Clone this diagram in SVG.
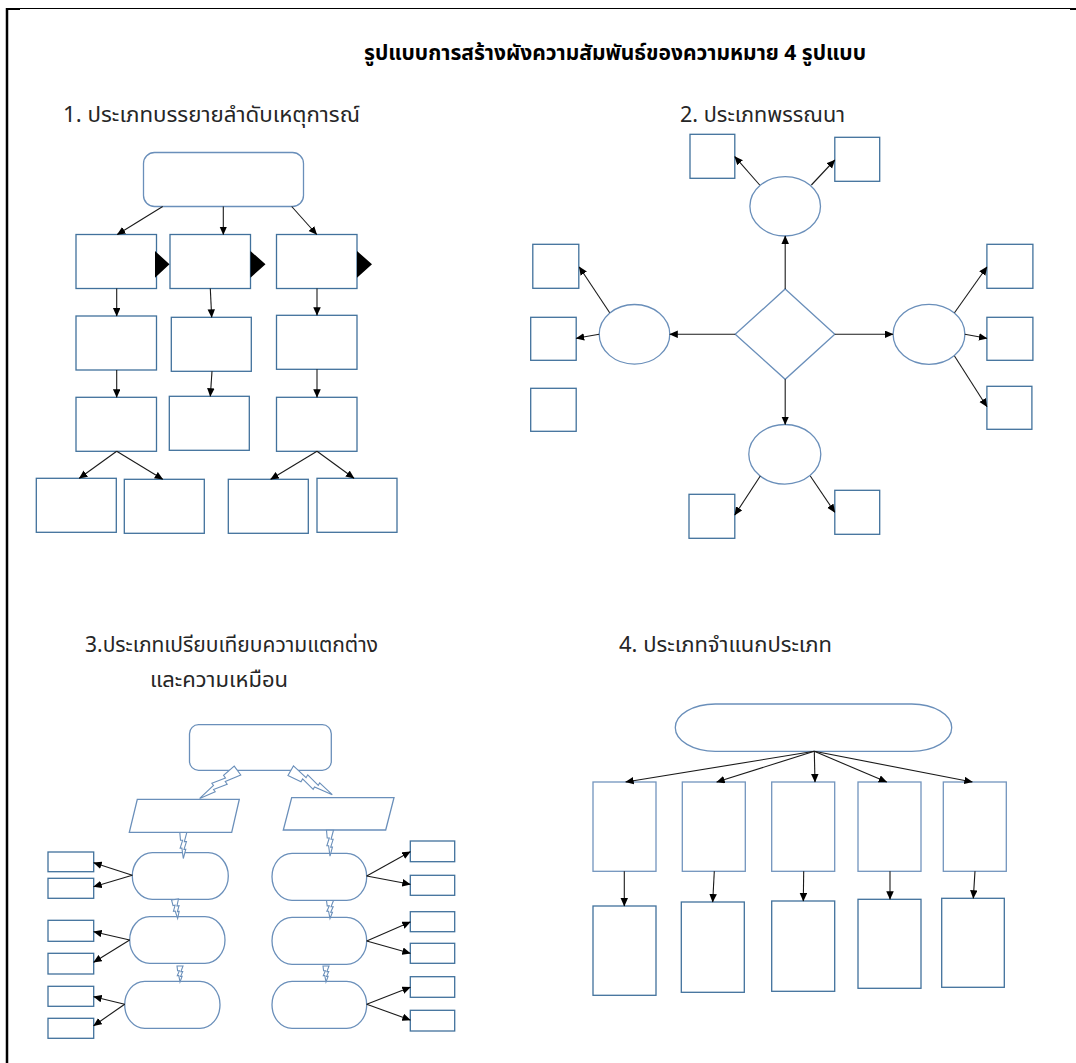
<svg xmlns="http://www.w3.org/2000/svg" xmlns:xlink="http://www.w3.org/1999/xlink" width="1076" height="1063" viewBox="0 0 1076 1063">
<style>
.t{font-family:'Noto Sans Thai','Noto Sans','DejaVu Sans',sans-serif;fill:#262626;font-size:21px}
.tb{font-family:'Noto Sans Thai','Noto Sans','DejaVu Sans',sans-serif;fill:#000;font-size:21px;font-weight:bold}
.bx{fill:#fff;stroke:#41719c;stroke-width:1.3}
.sh{fill:#fff;stroke:#6a8fba;stroke-width:1.3}
.c line{stroke:#1a1a1a;stroke-width:1.1;marker-end:url(#ah)}
.bolt{fill:#fff;stroke:#6a8fba;stroke-width:1.1}
</style>
<defs>
<marker id="ah" markerUnits="userSpaceOnUse" markerWidth="9" markerHeight="8" refX="8" refY="3.75" orient="auto">
<path d="M0,0 L8.5,3.75 L0,7.5 z" fill="#000"/>
</marker>
<path id="bolt" d="M-0.5,0 L0.5,0 L0.15,0.35 L0.45,0.35 L0.1,0.65 L0.35,0.65 L0,1 L-0.2,0.6 L-0.45,0.6 L-0.1,0.3 L-0.4,0.3 Z" vector-effect="non-scaling-stroke"/>
</defs>
<rect width="1076" height="1063" fill="#fff"/>
<g id="border">
<line x1="7" y1="8" x2="7" y2="1063" stroke="#000" stroke-width="2.5"/>
<line x1="6" y1="8.5" x2="1076" y2="8.5" stroke="#000" stroke-width="1"/>
<line x1="6" y1="9" x2="20" y2="9" stroke="#000" stroke-width="2"/>
<line x1="1070" y1="9" x2="1076" y2="9" stroke="#000" stroke-width="2"/>
</g>
<g id="texts">
<text class="tb" x="364" y="60" textLength="502" lengthAdjust="spacingAndGlyphs">รูปแบบการสร้างผังความสัมพันธ์ของความหมาย 4 รูปแบบ</text>
<text class="t" x="63" y="122" textLength="297" lengthAdjust="spacingAndGlyphs">1. ประเภทบรรยายลำดับเหตุการณ์</text>
<text class="t" x="680" y="122" textLength="165" lengthAdjust="spacingAndGlyphs">2. ประเภทพรรณนา</text>
<text class="t" x="85" y="652" textLength="293" lengthAdjust="spacingAndGlyphs">3.ประเภทเปรียบเทียบความแตกต่าง</text>
<text class="t" x="219" y="687" text-anchor="middle" style="font-size:22px">และความเหมือน</text>
<text class="t" x="619" y="652" textLength="213" lengthAdjust="spacingAndGlyphs">4. ประเภทจำแนกประเภท</text>
</g>
<!-- Section 1 -->
<g id="s1">
<g id="s1-top"><rect class="bx" x="143.5" y="152.5" width="160" height="54" rx="11" style="stroke:#6a8fba"/></g>
<g id="s1-a1"><rect class="bx" x="76" y="234.5" width="80.5" height="54"/></g>
<g id="s1-b1"><rect class="bx" x="170" y="234.5" width="80.5" height="54"/></g>
<g id="s1-c1"><rect class="bx" x="276.5" y="234.5" width="80.5" height="54"/></g>
<g id="s1-tri"><path d="M155,251 L169.5,264.3 L155,277.7 Z M250.5,251 L265.5,264.3 L250.5,277.7 Z M357,251 L372,264.3 L357,277.7 Z" fill="#000"/></g>
<g id="s1-a2"><rect class="bx" x="76" y="316" width="80.5" height="54"/></g>
<g id="s1-b2"><rect class="bx" x="171.3" y="317.3" width="80" height="54"/></g>
<g id="s1-c2"><rect class="bx" x="276.5" y="315.3" width="80.5" height="54"/></g>
<g id="s1-a3"><rect class="bx" x="76" y="397.3" width="80.5" height="54"/></g>
<g id="s1-b3"><rect class="bx" x="169.3" y="396.3" width="80" height="54"/></g>
<g id="s1-c3"><rect class="bx" x="276.5" y="397.3" width="80.5" height="54"/></g>
<g id="s1-d1"><rect class="bx" x="36.3" y="478.3" width="80" height="54"/></g>
<g id="s1-d2"><rect class="bx" x="124.3" y="479.3" width="80" height="54"/></g>
<g id="s1-d3"><rect class="bx" x="228.3" y="479.3" width="80" height="54"/></g>
<g id="s1-d4"><rect class="bx" x="317" y="478.3" width="80" height="54"/></g>
</g>
<!-- Section 2 -->
<g id="s2">
<g id="s2-diamond"><path class="sh" d="M785.2,289 L834.8,334.3 L785.2,379.3 L735.2,334.3 Z"/></g>
<g id="s2-et"><ellipse class="sh" cx="785.2" cy="206.3" rx="35.3" ry="29.7"/></g>
<g id="s2-el"><ellipse class="sh" cx="634.5" cy="334.3" rx="35.3" ry="29.8"/></g>
<g id="s2-er"><ellipse class="sh" cx="929" cy="334.3" rx="35.9" ry="30"/></g>
<g id="s2-eb"><ellipse class="sh" cx="784.8" cy="454.3" rx="36" ry="29.8"/></g>
<g id="s2-tl"><rect class="bx" x="690" y="134.3" width="44.8" height="44"/></g>
<g id="s2-tr"><rect class="bx" x="834.8" y="137.3" width="44.9" height="44"/></g>
<g id="s2-l1"><rect class="bx" x="532.8" y="244.3" width="46" height="44"/></g>
<g id="s2-l2"><rect class="bx" x="530.7" y="317.3" width="45.5" height="43"/></g>
<g id="s2-l3"><rect class="bx" x="530.7" y="388.3" width="45.5" height="43"/></g>
<g id="s2-r1"><rect class="bx" x="986.9" y="244.3" width="46" height="44"/></g>
<g id="s2-r2"><rect class="bx" x="986.9" y="317.3" width="46" height="43"/></g>
<g id="s2-r3"><rect class="bx" x="986.9" y="386.3" width="45" height="43"/></g>
<g id="s2-bl"><rect class="bx" x="689" y="494.3" width="45.8" height="44"/></g>
<g id="s2-br"><rect class="bx" x="834.8" y="490.3" width="44.9" height="44"/></g>
</g>
<!-- Section 3 -->
<g id="s3">
<g id="s3-top"><rect class="sh" x="189.5" y="724.7" width="141.8" height="45.6" rx="9"/></g>
<g id="s3-pl"><path class="sh" d="M137.3,799.3 L239.3,799.3 L231.7,832.3 L129.3,832.3 Z"/></g>
<g id="s3-pr"><path class="sh" d="M291.7,797.7 L394,797.7 L385.7,830 L283.3,830 Z"/></g>
<g id="s3-p1"><rect class="sh" x="132.3" y="852.7" width="96" height="46.6" rx="20" ry="23.3"/></g>
<g id="s3-p2"><rect class="sh" x="129.7" y="916.7" width="95.3" height="46.6" rx="20" ry="23.3"/></g>
<g id="s3-p3"><rect class="sh" x="124.7" y="981.3" width="95.3" height="47" rx="20" ry="23.5"/></g>
<g id="s3-q1"><rect class="sh" x="272" y="853.3" width="94.7" height="47" rx="20" ry="23.5"/></g>
<g id="s3-q2"><rect class="sh" x="272" y="917.3" width="94.7" height="47" rx="20" ry="23.5"/></g>
<g id="s3-q3"><rect class="sh" x="272" y="981.3" width="94.7" height="47" rx="20" ry="23.5"/></g>
<g id="s3-lb1"><rect class="bx" x="48" y="852" width="45.7" height="19.7"/></g>
<g id="s3-lb2"><rect class="bx" x="48" y="878.3" width="45.7" height="20"/></g>
<g id="s3-lb3"><rect class="bx" x="48" y="920.3" width="45.7" height="21"/></g>
<g id="s3-lb4"><rect class="bx" x="48" y="953.3" width="45.7" height="20.7"/></g>
<g id="s3-lb5"><rect class="bx" x="48" y="986.3" width="45.7" height="20"/></g>
<g id="s3-lb6"><rect class="bx" x="48" y="1018.3" width="45.7" height="20"/></g>
<g id="s3-rb1"><rect class="bx" x="410.3" y="841" width="44.4" height="20.7"/></g>
<g id="s3-rb2"><rect class="bx" x="410.3" y="875.3" width="44.4" height="20"/></g>
<g id="s3-rb3"><rect class="bx" x="410.3" y="911.7" width="44.4" height="20"/></g>
<g id="s3-rb4"><rect class="bx" x="410.3" y="943.3" width="44.4" height="20"/></g>
<g id="s3-rb5"><rect class="bx" x="410.3" y="976.7" width="44.4" height="20.6"/></g>
<g id="s3-rb6"><rect class="bx" x="410.3" y="1010.3" width="44.4" height="20.7"/></g>
<g id="s3-bolts">
<use xlink:href="#bolt" class="bolt" transform="translate(237.5,770.5) rotate(53.6) scale(11,47)"/>
<use xlink:href="#bolt" class="bolt" transform="translate(290.7,770.7) rotate(-60) scale(11,48)"/>
<use xlink:href="#bolt" class="bolt" transform="translate(183.3,832.5) scale(7,26)"/>
<use xlink:href="#bolt" class="bolt" transform="translate(330,830.2) scale(7,26)"/>
<use xlink:href="#bolt" class="bolt" transform="translate(175,899.5) rotate(-8) scale(7,19)"/>
<use xlink:href="#bolt" class="bolt" transform="translate(330,900.5) scale(7,18)"/>
<use xlink:href="#bolt" class="bolt" transform="translate(180,966) scale(6,16)"/>
<use xlink:href="#bolt" class="bolt" transform="translate(326,966) scale(6,16)"/>
</g>
</g>
<!-- Section 4 -->
<g id="s4">
<g id="s4-top"><rect class="sh" x="675.3" y="704" width="276.4" height="47.3" rx="40" ry="23.6"/></g>
<g id="s4-a1"><rect class="bx" x="593" y="782" width="63" height="89.3" style="stroke:#7294bd"/></g>
<g id="s4-b1"><rect class="bx" x="682.3" y="782" width="63" height="89.3" style="stroke:#7294bd"/></g>
<g id="s4-c1"><rect class="bx" x="771.7" y="782" width="63" height="89.3" style="stroke:#7294bd"/></g>
<g id="s4-d1"><rect class="bx" x="858" y="782" width="63" height="89.3" style="stroke:#7294bd"/></g>
<g id="s4-e1"><rect class="bx" x="943.3" y="782" width="63" height="89.3" style="stroke:#7294bd"/></g>
<g id="s4-a2"><rect class="bx" x="593" y="906" width="63" height="89.3"/></g>
<g id="s4-b2"><rect class="bx" x="681.3" y="902" width="63" height="90.3"/></g>
<g id="s4-c2"><rect class="bx" x="771.7" y="901" width="63" height="90.3"/></g>
<g id="s4-d2"><rect class="bx" x="858" y="899.3" width="63" height="89"/></g>
<g id="s4-e2"><rect class="bx" x="941.7" y="898.3" width="62.6" height="89"/></g>
</g>
<g id="connectors" class="c">
<!-- s1 -->
<line x1="162.7" y1="206.5" x2="117.3" y2="234.5"/>
<line x1="223.3" y1="206.5" x2="223.3" y2="234.5"/>
<line x1="291.7" y1="206.5" x2="316.7" y2="234.5"/>
<line x1="116.7" y1="288.5" x2="116.7" y2="316"/>
<line x1="210.3" y1="288.5" x2="211.7" y2="317.3"/>
<line x1="317" y1="288.5" x2="317" y2="315.3"/>
<line x1="116.7" y1="370" x2="116.7" y2="397.3"/>
<line x1="212" y1="371.3" x2="210.3" y2="396.3"/>
<line x1="317" y1="369.3" x2="317" y2="397.3"/>
<line x1="116.7" y1="451.3" x2="79.3" y2="478.3"/>
<line x1="116.7" y1="451.3" x2="162.7" y2="479.3"/>
<line x1="317" y1="451.3" x2="270.7" y2="479.3"/>
<line x1="317" y1="451.3" x2="354" y2="478.3"/>
<!-- s2 -->
<line x1="785.2" y1="289" x2="785.2" y2="236"/>
<line x1="735.2" y1="334.3" x2="669.8" y2="334.3"/>
<line x1="834.8" y1="334.3" x2="893" y2="334.3"/>
<line x1="785.2" y1="379.3" x2="785.2" y2="424.5"/>
<line x1="759.7" y1="185" x2="734.8" y2="156.7"/>
<line x1="811.4" y1="185" x2="834.8" y2="160"/>
<line x1="609.7" y1="312.7" x2="579.3" y2="267"/>
<line x1="599.2" y1="334.3" x2="576.2" y2="338.3"/>
<line x1="954.5" y1="312.7" x2="986.9" y2="267"/>
<line x1="964.8" y1="334.3" x2="986.9" y2="338.3"/>
<line x1="954.5" y1="356" x2="986.9" y2="406.7"/>
<line x1="760.3" y1="476" x2="734.8" y2="515"/>
<line x1="810.3" y1="476" x2="834.8" y2="512.3"/>
<!-- s3 -->
<line x1="132.3" y1="875.3" x2="93.7" y2="862.7"/>
<line x1="132.3" y1="875.3" x2="93.7" y2="886.7"/>
<line x1="129.7" y1="940" x2="93.7" y2="931.7"/>
<line x1="129.7" y1="940" x2="93.7" y2="962.3"/>
<line x1="124.7" y1="1004.3" x2="93.7" y2="996.7"/>
<line x1="124.7" y1="1004.3" x2="93.7" y2="1025.7"/>
<line x1="366.7" y1="876" x2="410.3" y2="851.7"/>
<line x1="366.7" y1="876" x2="410.3" y2="884.3"/>
<line x1="366.7" y1="941" x2="410.3" y2="922"/>
<line x1="366.7" y1="941" x2="410.3" y2="953.3"/>
<line x1="366.7" y1="1004.3" x2="410.3" y2="987.3"/>
<line x1="366.7" y1="1004.3" x2="410.3" y2="1020"/>
<!-- s4 -->
<line x1="814.3" y1="751.3" x2="625.7" y2="782"/>
<line x1="814.3" y1="751.3" x2="716.7" y2="782"/>
<line x1="814.3" y1="751.3" x2="815" y2="782"/>
<line x1="814.3" y1="751.3" x2="886.7" y2="782"/>
<line x1="814.3" y1="751.3" x2="972.3" y2="782"/>
<line x1="624.3" y1="871.3" x2="624.3" y2="906"/>
<line x1="714.3" y1="871.3" x2="712.7" y2="902"/>
<line x1="803.7" y1="871.3" x2="803.3" y2="901"/>
<line x1="890" y1="871.3" x2="890" y2="899.3"/>
<line x1="975" y1="871.3" x2="973.3" y2="898.3"/>
</g>
</svg>
